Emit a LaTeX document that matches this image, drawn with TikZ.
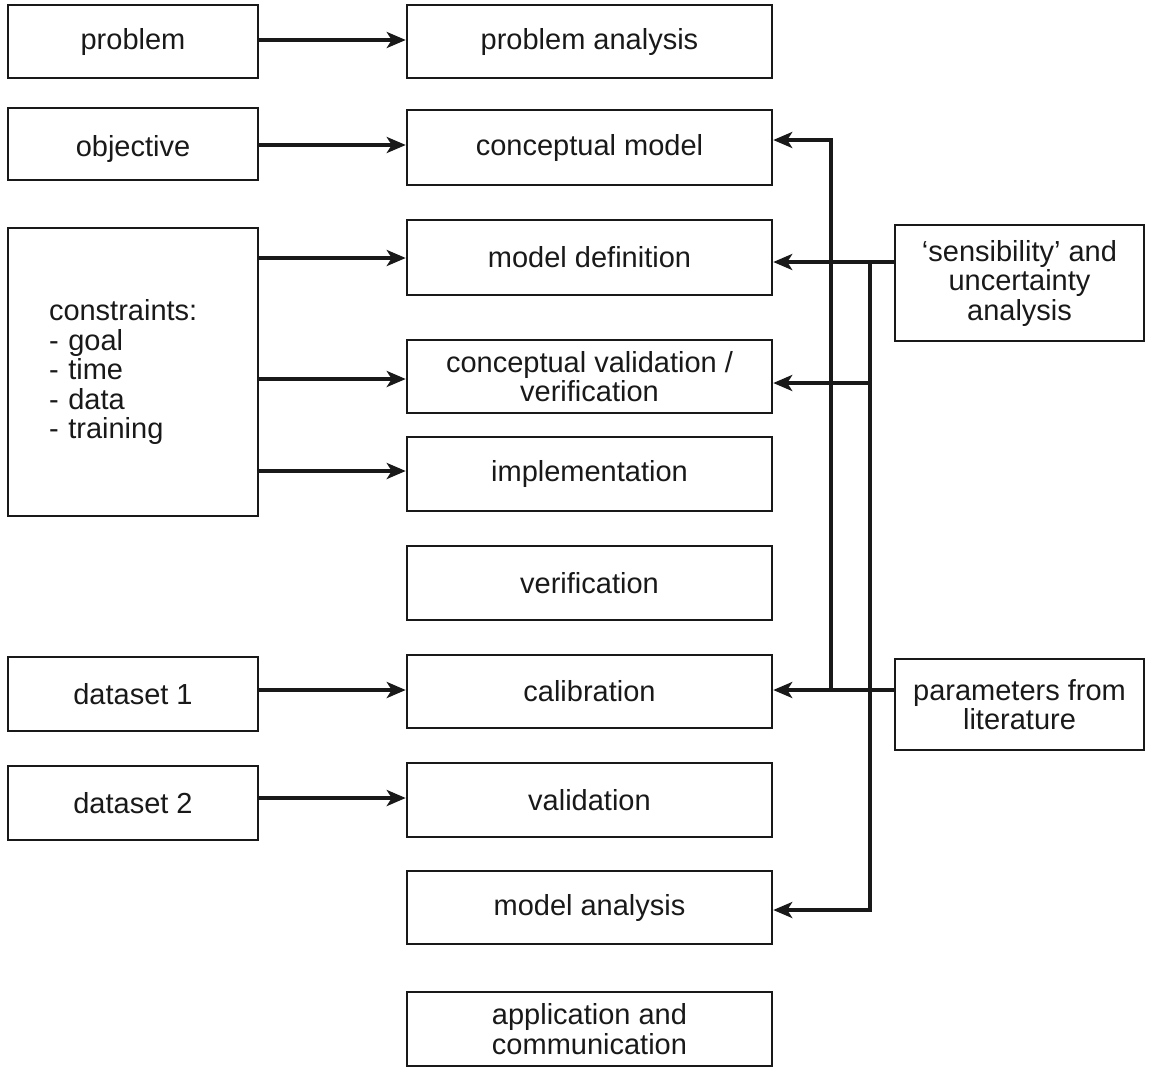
\documentclass[tikz,border=0pt]{standalone}
\usepackage{fontspec}
\setmainfont{Liberation Sans}
\usetikzlibrary{arrows.meta}
\begin{document}
\begin{tikzpicture}[x=1pt,y=-1pt,
  bx/.style={draw=black!90, line width=2.5pt, inner sep=0pt, align=center, text=black!90,
    font=\fontsize{29}{29.5}\selectfont},
  lbox/.style={bx, minimum width=250pt},
  mbox/.style={bx, minimum width=365pt},
  rbox/.style={bx, minimum width=249pt},
  arr/.style={draw=black!90, line width=3.5pt, -{Stealth[length=19pt,width=16pt,inset=5pt]}},
  ln/.style={draw=black!90, line width=3.5pt}
]
\useasboundingbox (0,0) rectangle (1174,1069);
% left column
\node[lbox, minimum height=73pt] (prob) at (133,41.5) {problem};
\node[lbox, minimum height=72pt, text height=31pt, text depth=6.1pt] (obj) at (133,144) {objective};
\node[lbox, minimum height=288pt, inner xsep=41pt, text width=168pt, align=left] (cons) at (133,372)
  {constraints:\\- goal\\- time\\- data\\- training};
\node[lbox, minimum height=74pt] (ds1) at (133,694) {dataset 1};
\node[lbox, minimum height=74pt] (ds2) at (133,803) {dataset 2};
% middle column
\node[mbox, minimum height=73pt] (pa) at (589.5,41.5) {problem analysis};
\node[mbox, minimum height=75pt] (cm) at (589.5,147.5) {conceptual model};
\node[mbox, minimum height=75pt] (md) at (589.5,257.5) {model definition};
\node[mbox, minimum height=73pt] (cv) at (589.5,376.5) {conceptual validation /\\verification};
\node[mbox, minimum height=74pt] (imp) at (589.5,474) {implementation};
\node[mbox, minimum height=74pt] (ver) at (589.5,583) {verification};
\node[mbox, minimum height=73pt] (cal) at (589.5,691.5) {calibration};
\node[mbox, minimum height=74pt] (val) at (589.5,800) {validation};
\node[mbox, minimum height=73pt] (ma) at (589.5,907.5) {model analysis};
\node[mbox, minimum height=74pt] (app) at (589.5,1029) {application and\\communication};
% right column
\node[rbox, minimum height=116pt] (sens) at (1019.5,283) {‘sensibility’ and\\uncertainty\\analysis};
\node[rbox, minimum height=91pt] (par) at (1019.5,704.5) {parameters from\\literature};
% left arrows
\coordinate (yP) at (0,40);
\coordinate (yO) at (0,145);
\coordinate (yMD) at (0,258);
\coordinate (yCV) at (0,379);
\coordinate (yIM) at (0,471);
\coordinate (yD1) at (0,690);
\coordinate (yD2) at (0,798);
\draw[arr] (prob.east |- yP) -- (pa.west |- yP);
\draw[arr] (obj.east |- yO) -- (cm.west |- yO);
\draw[arr] (cons.east |- yMD) -- (md.west |- yMD);
\draw[arr] (cons.east |- yCV) -- (cv.west |- yCV);
\draw[arr] (cons.east |- yIM) -- (imp.west |- yIM);
\draw[arr] (ds1.east |- yD1) -- (cal.west |- yD1);
\draw[arr] (ds2.east |- yD2) -- (val.west |- yD2);
% right connectors
\coordinate (jS) at (870,262);
\coordinate (jV) at (870,383);
\coordinate (jA) at (870,910);
\coordinate (jP) at (831,690);
\coordinate (jC) at (831,140);
\draw[arr] (sens.west |- jS) -- (md.east |- jS);
\draw[arr] (jS) -- (jA) -- (ma.east |- jA);
\draw[arr] (jV) -- (cv.east |- jV);
\draw[arr] (par.west |- jP) -- (cal.east |- jP);
\draw[arr] (jP) -- (jC) -- (cm.east |- jC);
\end{tikzpicture}
\end{document}
